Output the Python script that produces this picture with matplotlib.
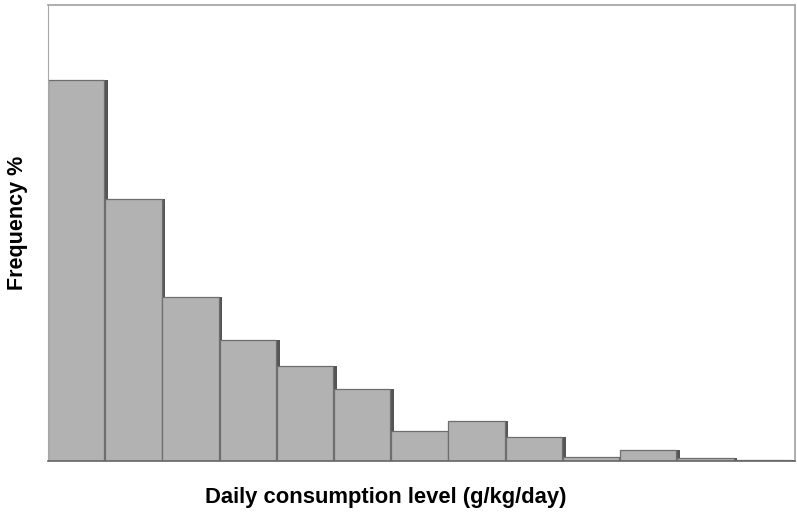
import matplotlib.pyplot as plt
import numpy as np

# histogram bins (no tick labels shown in the original), frequency in %
bins = np.arange(13)
freq = [31.6, 21.7, 13.6, 10.0, 7.9, 6.0, 2.5, 3.3, 2.0, 0.3, 0.9, 0.25, 0.08]

plt.rcParams['font.family'] = ['Liberation Sans', 'DejaVu Sans']

fig = plt.figure(figsize=(7.97, 5.16), dpi=100)
ax = fig.add_axes([48 / 797, 55 / 516, 747 / 797, 456 / 516])

# dark shadow on the right side of each bar
ax.bar(bins + 0.05, freq, width=1.0, align='edge', color='#555555', linewidth=0)
ax.bar(bins, freq, width=0.985, align='edge', color='#b2b2b2',
       edgecolor='#6e6e6e', linewidth=0.9)

ax.set_xlim(0, 13.06)
ax.set_ylim(0, 37.8)
ax.set_xticks([])
ax.set_yticks([])
for side in ['top', 'right']:
    ax.spines[side].set_color('#a8a8a8')
    ax.spines[side].set_linewidth(1.3)
ax.spines['left'].set_color('#a8a8a8')
ax.spines['bottom'].set_color('#666666')
ax.spines['bottom'].set_linewidth(1.2)

fig.text(386 / 797, 1 - 497 / 516, 'Daily consumption level (g/kg/day)',
         ha='center', va='center', fontsize=15.8, fontweight='bold')
fig.text(18 / 797, 1 - 223 / 516, 'Frequency %', rotation=90,
         ha='center', va='center', fontsize=15.5, fontweight='bold')

fig.savefig('out.png', dpi=100)
